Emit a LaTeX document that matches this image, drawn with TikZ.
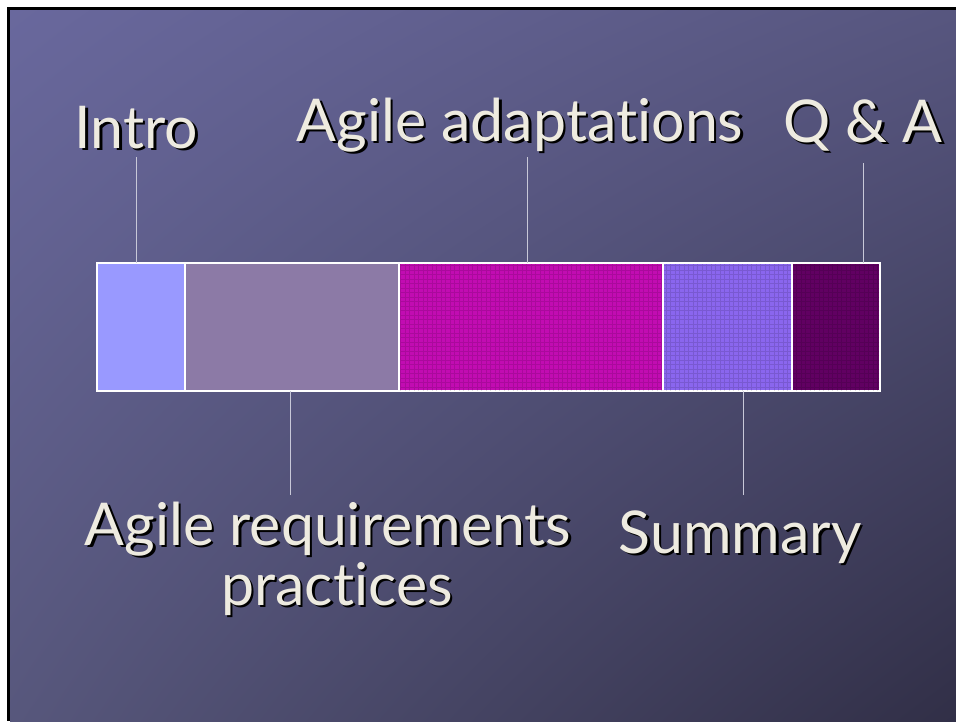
\documentclass[tikz,border=0pt]{standalone}
\usepackage{fontspec}
\setmainfont{Lato}[Ligatures={NoCommon,NoRare}]
\usetikzlibrary{shadings}
\definecolor{bgTL}{HTML}{69689D}
\definecolor{bgTR}{HTML}{57567F}
\definecolor{bgBL}{HTML}{57577C}
\definecolor{bgBR}{HTML}{312F47}
\definecolor{labelc}{HTML}{EEEBE0}
\definecolor{leadc}{HTML}{C8C8D8}
\definecolor{cA}{HTML}{9999FF}
\definecolor{cB}{HTML}{8C7AA6}
\definecolor{cC}{HTML}{C20CB2}
\definecolor{cD}{HTML}{8A66EE}
\definecolor{cE}{HTML}{610062}
\newcommand\shtext[1]{\rlap{\kern2.5pt\raisebox{-2.5pt}{\textcolor{black}{#1}}}#1}
\begin{document}
\begin{tikzpicture}[x=1pt,y=-1pt,
  lbl/.style={text=labelc, font=\fontsize{59}{59}\selectfont, inner sep=0pt, anchor=base},
  seg/.style={draw=white, line width=1.2pt, minimum height=128pt, anchor=north west, inner sep=0pt, outer sep=0pt},
  texture/.style={draw=black, draw opacity=0.12, line width=0.6pt},
  lead/.style={draw=leadc, line width=1pt}]
\useasboundingbox (0,0) rectangle (956,721);
\fill[white] (0,0) rectangle (956,721);
\fill[black] (7,7) rectangle (956,721);
\shade[upper left=bgTL, upper right=bgTR, lower left=bgBL, lower right=bgBR] (10,10) rectangle (956,721);

% bar segments
\node[seg, fill=cA, minimum width=88pt] (s1) at (97,263) {};
\node[seg, fill=cB, minimum width=214pt] (s2) at (185,263) {};
\node[seg, fill=cC, minimum width=264pt] (s3) at (399,263) {};
\node[seg, fill=cD, minimum width=129pt] (s4) at (663,263) {};
\node[seg, fill=cE, minimum width=88pt] (s5) at (792,263) {};
\foreach \s in {s3,s4,s5}{
  \begin{scope}
    \clip ([xshift=1pt,yshift=1pt]\s.south west) rectangle ([xshift=-1pt,yshift=-1pt]\s.north east);
    \draw[texture, step=4.5pt] (\s.south west) grid (\s.north east);
  \end{scope}
}

% labels
\node[lbl] (intro) at (136.5,148) {\shtext{Intro}};
\node[lbl] (adapt) at (520,141) {\shtext{Agile adaptations}};
\node[lbl] (qa) at (863,142) {\shtext{Q \& A}};
\node[lbl] (req1) at (328,545) {\shtext{Agile requirements}};
\node[lbl] (req2) at (337,605) {\shtext{practices}};
\node[lbl] (sum) at (740,553) {\shtext{Summary}};

% leader lines
\coordinate (introL) at (136,157);
\coordinate (adaptL) at (527,157);
\coordinate (qaL) at (863,163);
\coordinate (reqL) at (290,495);
\coordinate (sumL) at (743,495);
\draw[lead] (introL) -- (introL |- s1.north);
\draw[lead] (adaptL) -- (adaptL |- s3.north);
\draw[lead] (qaL) -- (qaL |- s5.north);
\draw[lead] (reqL) -- (reqL |- s2.south);
\draw[lead] (sumL) -- (sumL |- s4.south);
\end{tikzpicture}
\end{document}
